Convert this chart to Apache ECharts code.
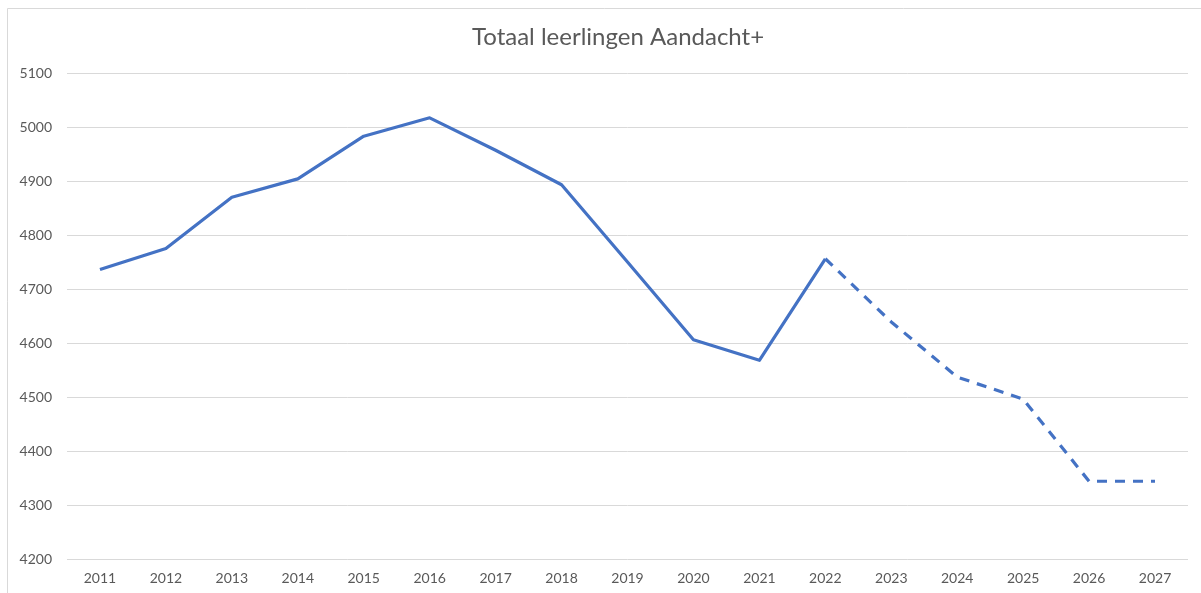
<!DOCTYPE html>
<html>
<head>
<meta charset="utf-8">
<script src="https://cdn.jsdelivr.net/npm/echarts@6/dist/echarts.min.js"></script>
<style>html,body{margin:0;padding:0;background:#fff}#c{width:1201px;height:593px}</style>
</head>
<body>
<div id="c"></div>
<script>
const titleText = 'Totaal leerlingen Aandacht+';
const years = ['2011','2012','2013','2014','2015','2016','2017','2018','2019','2020','2021','2022','2023','2024','2025','2026','2027'];
const actual = [4736, 4775, 4870, 4904, 4983, 5017, 4957, 4893, 4750, 4606, 4568, 4756, null, null, null, null, null];
const projected = [null, null, null, null, null, null, null, null, null, null, null, 4756, 4639, 4537, 4496, 4344, 4344];
const yMin = 4200, yMax = 5100, yStep = 100;

const chart = echarts.init(document.getElementById('c'), null, {renderer: 'canvas'});
const font = 'Lato, "Open Sans", "Liberation Sans", sans-serif';
chart.setOption({
  animation: false,
  backgroundColor: '#ffffff',
  title: {
    text: titleText, left: 467, top: 20,
    textStyle: {fontFamily: font, fontSize: 24, fontWeight: 'normal', color: '#595959'}
  },
  graphic: [{
    type: 'rect', shape: {x: 7.5, y: 8.5, width: 1300, height: 700},
    style: {fill: 'none', stroke: '#d9d9d9', lineWidth: 1}, silent: true
  }],
  grid: {left: 67, right: 13, top: 73, bottom: 34, containLabel: false},
  xAxis: {
    type: 'category', data: years, boundaryGap: true,
    axisLine: {show: false}, axisTick: {show: false},
    axisLabel: {fontFamily: font, fontSize: 14, color: '#595959', margin: 12}
  },
  yAxis: {
    type: 'value', min: yMin, max: yMax, interval: yStep,
    axisLine: {show: false}, axisTick: {show: false},
    splitLine: {lineStyle: {color: '#d9d9d9', width: 1}},
    axisLabel: {fontFamily: font, fontSize: 14, color: '#595959', margin: 15, formatter: v => String(v)}
  },
  series: [
    {type: 'line', data: actual, symbol: 'none', lineStyle: {color: '#4472C4', width: 3.2, join: 'round'}, connectNulls: false},
    {type: 'line', data: projected, symbol: 'none', lineStyle: {color: '#4472C4', width: 3.2, type: [10, 8]}, connectNulls: false}
  ]
});
</script>
</body>
</html>
